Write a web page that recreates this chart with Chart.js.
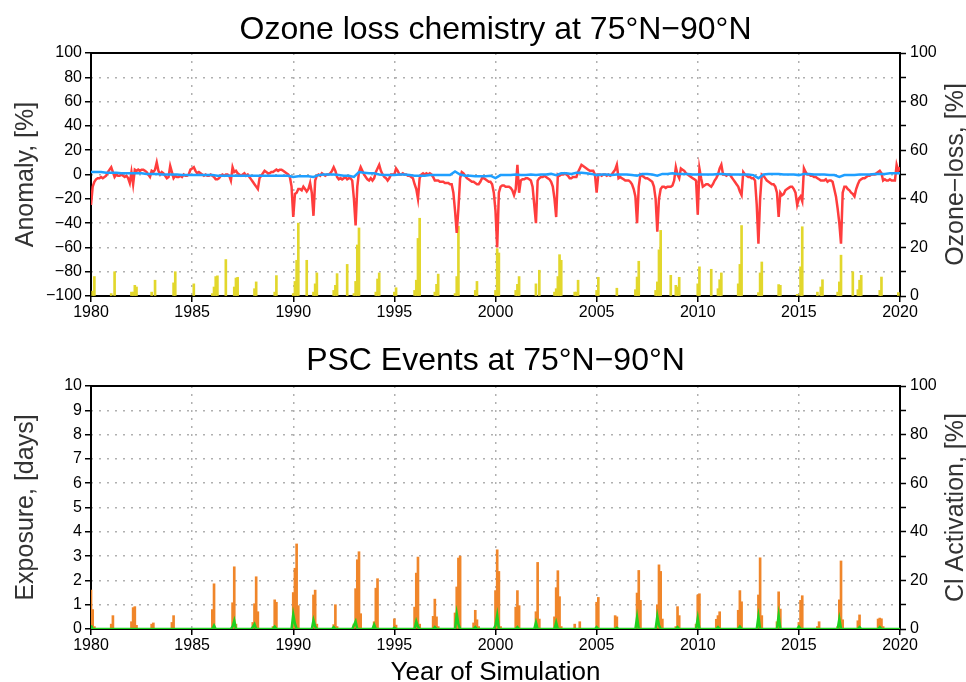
<!DOCTYPE html>
<html lang="en">
  <head>
    <meta charset="utf-8" />
    <title>Ozone loss chemistry at 75°N−90°N</title>
    <style>
      * {
        margin: 0;
        padding: 0;
      }
      body {
        background: #fff;
        width: 966px;
        height: 682px;
        overflow: hidden;
      }
      .chartBox {
        position: absolute;
        left: 0;
        width: 966px;
        height: 341px;
      }
      #topBox {
        top: 0;
      }
      #bottomBox {
        top: 341px;
      }
    </style>
  </head>
  <body>
    <div class="chartBox" id="topBox"><canvas id="ozoneChart" width="966" height="341"></canvas></div>
    <div class="chartBox" id="bottomBox"><canvas id="pscChart" width="966" height="341"></canvas></div>

    <script src="https://cdn.jsdelivr.net/npm/chart.js@4.4.0/dist/chart.umd.min.js"></script>

    <script>
      // ---- data ----
      const firstYear = 1980;
      const yearTicks = [1980, 1985, 1990, 1995, 2000, 2005, 2010, 2015, 2020];
      const anomalyTicks = [-100, -80, -60, -40, -20, 0, 20, 40, 60, 80, 100];
      const percentTicks = [0, 10, 20, 30, 40, 50, 60, 70, 80, 90, 100];
      const exposureTicks = [0, 1, 2, 3, 4, 5, 6, 7, 8, 9, 10];

      // ozone anomaly [%], one row per year (Jan..Dec), starting 1980
      const anomalyRows = [
        [-25, -10, -6, -4, -3, -3, -2, -3, -2, -1, 2, 4],
        [6, 2, -2, 0, -1, -1, 0, -1, -2, -1, -3, -7],
        [2, -8, 4, 3, 4, 3, 4, 4, 3, 2, 0, -2],
        [3, 2, 4, 10, 3, 0, 2, 1, -1, -3, -2, 7],
        [2, -3, -1, -2, -2, -1, -2, 0, -1, -1, 0, 4],
        [5, 6, 3, 1, 2, 1, 0, -1, 0, -1, -1, 0],
        [-1, -2, -4, -4, -3, -1, 0, -1, 0, 0, -1, -5],
        [6, 2, 3, 1, 0, -1, 0, 1, -1, 0, -2, -4],
        [-6, -8, -10, -12, -3, -1, 1, 3, 2, 1, 1, 2],
        [2, 3, 4, 3, 4, 4, 3, 2, 1, 0, -2, -10],
        [-35, -16, -15, -12, -12, -13, -10, -12, -14, -12, -7, -15],
        [-34, -5, -1, 0, -1, 1, 0, -1, 0, 0, 1, 3],
        [6, 3, -2, -4, -3, -4, -3, -2, -4, -3, -3, -5],
        [-20, -42, -10, 2, 6, 3, 0, -2, -4, -5, -3, -5],
        [-3, 2, 5, 8, 3, 0, -2, -3, -5, -3, 0, 0],
        [0, 5, 3, 0, 0, 1, 0, 0, -1, -1, -2, -3],
        [-8, -12, -20, -3, 0, 1, 0, 1, 0, 1, 0, -2],
        [-5, -5, -5, -6, -6, -6, -7, -7, -7, -8, -8, -15],
        [-30, -48, -28, -3, 2, 1, -1, -3, -4, -5, -6, -6],
        [-7, -8, -8, -6, -3, -3, -4, -5, -6, -6, -8, -15],
        [-30, -60, -15, -10, -9, -9, -10, -10, -10, -11, -13, -17],
        [-12, 8, -15, -5, -4, -4, -3, -3, -4, -5, -10, -25],
        [-40, -5, -3, -2, -2, -1, -2, -3, -4, -6, -10, -20],
        [-35, 0, -1, 0, 0, 1, 0, -1, -3, -3, -2, -2],
        [-2, 2, 5, 8, 7, 6, 5, 4, 3, 3, 3, 0],
        [-15, 0, 0, -1, 0, 0, -1, 0, -1, 0, 2, 4],
        [8, -3, -2, -3, -4, -5, -5, -5, -6, -8, -12, -18],
        [-40, -10, 0, -1, -2, -3, -3, -4, -5, -6, -10, -20],
        [-47, -20, -12, -10, -10, -11, -10, -10, -10, -9, -5, 6],
        [0, -3, 5, 4, 3, 1, 0, -1, -2, -3, -4, -5],
        [-33, 5, -3, -10, -9, -8, -8, -9, -10, -8, -5, -3],
        [0, 5, 8, 0, 0, -1, 0, 0, -2, -4, -6, -8],
        [-10, -14, -17, 2, 0, -1, -2, -2, -3, -3, -5, -25],
        [-57, -20, 0, -1, -3, -5, -6, -7, -8, -8, -10, -15],
        [-35, -15, -17, -16, -13, -12, -11, -10, -10, -12, -15, -25],
        [-20, -18, -22, 5, 2, 0, 0, -1, -1, -2, -2, -3],
        [-4, -5, -5, -5, -4, -6, -5, -5, -6, -12, -18, -28],
        [-40, -57, -15, -10, -10, -12, -13, -15, -16, -18, -12, -8],
        [-5, -4, -3, -3, -2, -1, -1, 0, 0, 0, 1, 2],
        [3, 1, -5, -4, -5, -5, -4, -5, -5, -5, 8, 3],
        [6],
      ];

      // reference anomaly [%], one row per year (Jan, Apr, Jul, Oct)
      const referenceRows = [
        [2, 2, 2, 1.5], [1.5, 1.5, 1, 1], [1, 1, 1, 0.5], [0.5, 0.5, 0, 0],
        [0, 0, -0.5, -0.5], [-0.5, -0.5, -0.5, -0.5], [-0.5, -1, -1, -1], [-1, -1, -1, -1],
        [-1, -1, -1, -1], [-1, -1, -1, -1], [-2, -1.5, -1.5, -1.5], [-2, -0.5, 0, 0],
        [0, -0.5, -1, -1], [-2, 2, 1.5, 1], [1, 0, -0.5, -0.5], [-0.5, 0, 0, -0.5],
        [-1, -1, -1, -0.5], [-0.5, -0.5, -0.5, -0.5], [2.5, 0, -1, -1], [-1.5, -1.5, -1.5, -1],
        [-3, -0.5, -0.5, -0.5], [0, -0.5, -0.5, 0], [-0.5, 0, 0, 0.5], [-0.5, 1, 1, 0.5],
        [1.5, 1.5, 1, 0.5], [-0.5, 0, 0, -0.5], [0, 0, 0, -0.5], [-1, 0.5, 0.5, 0],
        [-1, 0.5, 0.5, 1], [0.5, 0.5, 0.5, 0], [0, 0, 0, 0], [0.5, 0.5, 0, 0],
        [0, 0, 0, -0.5], [-3, 0, 0.5, 0.5], [0.5, 0, 0, 0], [-0.5, 0.5, 0.5, 0],
        [0, 0, -0.5, -0.5], [-2, -0.5, -0.5, -0.5], [0, 0, 0, 0.5], [0.5, 0.5, 1, 1],
        [1],
      ];

      // ozone loss [%]: [year, month, value]
      const ozoneLoss = [
        [1980, 2, 2], [1980, 3, 8], [1981, 1, 1], [1981, 3, 10],
        [1982, 1, 1.6], [1982, 2, 1.6], [1982, 3, 4.4], [1982, 4, 3.7],
        [1983, 1, 1.6], [1983, 3, 6.5], [1984, 2, 5.4], [1984, 3, 10], [1985, 2, 5],
        [1986, 1, 1], [1986, 2, 3.7], [1986, 3, 8], [1986, 4, 8.3], [1986, 9, 15],
        [1987, 2, 3.7], [1987, 3, 7.4], [1987, 4, 7.7], [1988, 2, 3], [1988, 3, 5.8],
        [1989, 2, 1.6], [1989, 3, 8.4],
        [1990, 1, 1], [1990, 2, 6], [1990, 3, 14.7], [1990, 4, 30], [1990, 9, 14.7],
        [1991, 1, 1.6], [1991, 2, 5], [1991, 3, 9.5],
        [1992, 1, 2.3], [1992, 2, 4.4], [1992, 3, 9.2], [1992, 9, 13],
        [1993, 1, 1], [1993, 2, 6], [1993, 3, 21], [1993, 4, 28],
        [1994, 2, 1.6], [1994, 3, 7], [1994, 4, 9.5], [1995, 1, 1.6], [1995, 2, 3.4],
        [1996, 1, 2.3], [1996, 2, 6.5], [1996, 3, 23.7], [1996, 4, 32],
        [1997, 1, 1.6], [1997, 2, 4.8], [1997, 3, 9],
        [1998, 1, 1], [1998, 2, 8], [1998, 3, 28.7], [1999, 1, 2.3], [1999, 2, 6],
        [2000, 1, 2.3], [2000, 2, 19.5], [2000, 3, 17.7],
        [2001, 1, 2.3], [2001, 2, 4.8], [2001, 3, 8], [2002, 1, 5], [2002, 3, 10.6],
        [2002, 12, 1.6], [2003, 1, 3], [2003, 2, 8], [2003, 3, 17], [2003, 4, 14.7],
        [2003, 12, 1.6], [2004, 1, 1.6], [2004, 2, 6.5], [2005, 1, 2.3], [2005, 2, 7.7],
        [2006, 1, 3.2], [2006, 12, 2.6], [2007, 1, 7.8], [2007, 2, 14.3],
        [2007, 12, 2.3], [2008, 1, 5.8], [2008, 2, 19], [2008, 3, 27], [2008, 9, 8.5],
        [2008, 12, 4.4], [2009, 1, 3.7], [2009, 2, 7.7],
        [2010, 1, 5], [2010, 2, 12], [2010, 9, 11], [2011, 1, 3], [2011, 2, 6.7], [2011, 3, 9.5],
        [2012, 1, 5], [2012, 2, 13], [2012, 3, 29], [2013, 1, 1.4], [2013, 2, 9.5], [2013, 3, 14],
        [2014, 1, 4.7], [2014, 2, 4.4], [2014, 12, 0.7], [2015, 2, 12], [2015, 3, 28.5],
        [2015, 12, 1.6], [2016, 2, 3.7], [2016, 3, 6.7],
        [2016, 12, 1.6], [2017, 1, 5.8], [2017, 2, 16.8], [2017, 9, 10],
        [2017, 12, 2.6], [2018, 1, 6.5], [2018, 2, 8.5],
        [2019, 1, 2.3], [2019, 2, 7.8], [2019, 12, 1.4],
      ];

      // PSC exposure [days]: [year, month, value]
      const exposure = [
        [1980, 1, 1.6], [1980, 2, 0.8], [1980, 3, 0.1], [1981, 1, 0.2], [1981, 2, 0.55],
        [1982, 1, 0.3], [1982, 2, 0.88], [1982, 3, 0.92], [1982, 4, 0.15],
        [1983, 1, 0.2], [1983, 2, 0.25], [1984, 1, 0.27], [1984, 2, 0.55],
        [1986, 1, 0.8], [1986, 2, 1.86], [1987, 1, 1.08], [1987, 2, 2.56], [1987, 3, 0.2],
        [1988, 1, 0.27], [1988, 2, 1.04], [1988, 3, 2.15], [1988, 4, 0.71],
        [1989, 1, 0.1], [1989, 2, 1.2], [1989, 3, 1.1],
        [1990, 1, 1.5], [1990, 2, 2.5], [1990, 3, 3.5], [1990, 4, 0.96],
        [1991, 1, 1.4], [1991, 2, 1.6], [1991, 3, 0.2], [1992, 1, 0.18], [1992, 2, 1.0], [1992, 3, 0.1],
        [1993, 1, 0.2], [1993, 2, 1.66], [1993, 3, 2.85], [1993, 4, 3.18], [1993, 5, 0.63],
        [1994, 1, 0.3], [1994, 2, 1.68], [1994, 3, 2.07], [1995, 1, 0.42], [1995, 2, 0.16],
        [1996, 1, 0.9], [1996, 2, 2.3], [1996, 3, 2.96], [1996, 4, 0.2],
        [1996, 12, 0.52], [1997, 1, 1.23], [1997, 2, 0.5], [1997, 3, 0.1],
        [1998, 1, 0.66], [1998, 2, 1.73], [1998, 3, 2.92], [1998, 4, 3.0],
        [1998, 12, 0.25], [1999, 1, 0.77], [1999, 2, 0.38], [1999, 3, 0.1],
        [2000, 1, 1.58], [2000, 2, 3.26], [2000, 3, 2.37], [2000, 4, 0.1],
        [2001, 1, 0.9], [2001, 2, 1.58], [2001, 3, 0.96], [2002, 1, 0.71], [2002, 2, 2.74], [2002, 3, 0.41],
        [2002, 12, 0.5], [2003, 1, 1.7], [2003, 2, 2.4], [2003, 3, 1.33], [2003, 4, 0.1],
        [2003, 12, 0.2], [2004, 3, 0.3], [2005, 1, 1.1], [2005, 2, 1.3],
        [2005, 12, 0.55], [2006, 1, 0.5], [2007, 1, 1.48], [2007, 2, 2.41], [2007, 3, 1.18],
        [2008, 1, 1.0], [2008, 2, 2.64], [2008, 3, 2.37], [2008, 4, 0.41],
        [2008, 12, 0.1], [2009, 1, 0.92], [2009, 2, 0.55],
        [2009, 12, 0.2], [2010, 1, 1.4], [2010, 2, 1.45], [2010, 12, 0.4], [2011, 1, 0.55], [2011, 2, 0.71],
        [2012, 1, 0.77], [2012, 2, 1.58], [2012, 3, 1.12], [2013, 1, 1.4], [2013, 2, 2.93], [2013, 3, 0.55],
        [2013, 12, 0.3], [2014, 1, 1.53], [2014, 2, 0.82], [2015, 1, 0.27], [2015, 2, 1.18], [2015, 3, 1.37],
        [2015, 12, 0.1], [2016, 1, 0.3], [2016, 12, 0.1], [2017, 1, 1.2], [2017, 2, 2.8], [2017, 3, 0.38],
        [2017, 12, 0.34], [2018, 1, 0.58], [2018, 12, 0.41], [2019, 1, 0.45], [2019, 2, 0.42], [2019, 3, 0.1],
      ];

      // Cl activation [%]: [year, month, value], zero in all other months
      const clActivation = [
        [1980, 1, 1.4], [1986, 2, 1.4], [1987, 1, 1], [1987, 2, 3.4], [1988, 1, 0.8], [1988, 2, 2],
        [1989, 2, 1], [1990, 1, 5.9], [1990, 2, 2.2], [1991, 1, 3.6], [1991, 2, 1], [1992, 1, 0.8],
        [1993, 1, 1.5], [1993, 2, 3.1], [1994, 1, 1.8], [1995, 1, 0.5], [1996, 2, 3.1], [1996, 3, 1],
        [1997, 1, 0.8], [1998, 2, 6.2], [1998, 3, 2], [1999, 1, 0.8], [2000, 1, 1.5], [2000, 2, 5.6],
        [2001, 2, 0.8], [2002, 1, 2.7], [2003, 1, 2.7], [2005, 1, 0.8], [2006, 1, 0.5],
        [2007, 1, 4.8], [2008, 1, 5.2], [2008, 2, 1.5], [2009, 1, 0.8], [2010, 1, 4.4],
        [2011, 1, 0.8], [2012, 2, 1], [2013, 1, 5.1], [2014, 1, 5.6], [2015, 1, 1],
        [2017, 1, 4.1], [2018, 1, 0.8], [2019, 1, 0.8],
      ];

      // ---- helpers ----
      const monthX = (year, month) => year + (month - 1) / 12;
      const toPoints = (list) => list.map(([yr, mo, v]) => ({ x: monthX(yr, mo), y: v }));

      const anomalyPoints = anomalyRows.flatMap((row, i) =>
        row.map((v, m) => ({ x: firstYear + i + m / 12, y: v }))
      );
      const referencePoints = referenceRows.flatMap((row, i) =>
        row.map((v, q) => ({ x: firstYear + i + q / 4, y: v }))
      );

      const clLookup = {};
      clActivation.forEach(([yr, mo, v]) => (clLookup[yr * 12 + mo - 1] = v));
      const clPoints = [];
      for (let k = firstYear * 12; k <= 2020 * 12; k++) {
        clPoints.push({ x: k / 12, y: clLookup[k] || 0 });
      }

      // ---- styles ----
      const FONT = "'Liberation Sans', Arial, sans-serif";
      const gridGray = "#b0b0b0";
      Chart.defaults.font.family = FONT;
      Chart.defaults.font.size = 16;
      Chart.defaults.color = "#000";

      const fixedTicks = (list) => (axis) => {
        axis.ticks = list.map((v) => ({ value: v }));
      };
      const minus = (v) => String(v).replace("-", "\u2212");

      // frame around plot area
      const frameBox = {
        id: "frameBox",
        beforeDatasetsDraw(chart) {
          const { ctx, chartArea: { left, top, right, bottom } } = chart;
          ctx.save();
          ctx.strokeStyle = "#000";
          ctx.lineWidth = 2;
          ctx.strokeRect(left, top, right - left, bottom - top);
          ctx.restore();
        },
      };

      // titles
      const panelText = {
        id: "panelText",
        afterDraw(chart, args, opts) {
          const { ctx, chartArea: { left, top, right, bottom } } = chart;
          const midX = (left + right) / 2;
          const midY = (top + bottom) / 2;
          ctx.save();
          ctx.textAlign = "center";
          ctx.textBaseline = "alphabetic";
          ctx.fillStyle = "#000";
          ctx.font = "32px " + FONT;
          ctx.fillText(opts.title, midX, opts.titleY);

          if (opts.xTitle) {
            ctx.font = "26px " + FONT;
            ctx.fillText(opts.xTitle, midX, opts.xTitleY);
          }

          ctx.font = "25px " + FONT;
          ctx.fillStyle = "#333";
          [[opts.leftTitle, 33], [opts.rightTitle, 963]].forEach(([text, x]) => {
            ctx.save();
            ctx.translate(x, midY);
            ctx.rotate(-Math.PI / 2);
            ctx.fillText(text, 0, 0);
            ctx.restore();
          });
          ctx.restore();
        },
      };

      const xScale = (height) => ({
        type: "linear",
        min: 1980,
        max: 2020,
        offset: false,
        afterBuildTicks: fixedTicks(yearTicks),
        afterFit: (axis) => {
          axis.height = height;
        },
        ticks: { callback: (v) => String(v), maxRotation: 0, autoSkip: false, padding: 1 },
        grid: { offset: false, color: gridGray, lineWidth: 1.5, tickColor: "#000", tickLength: 6, tickWidth: 1.5 },
        border: { display: false, dash: [2, 6] },
      });

      const leftScale = (min, max, list) => ({
        position: "left",
        min: min,
        max: max,
        afterBuildTicks: fixedTicks(list),
        afterFit: (axis) => {
          axis.width = 91;
        },
        ticks: { callback: minus, padding: 3 },
        grid: { color: gridGray, lineWidth: 1.5, tickColor: "#000", tickLength: 6, tickWidth: 1.5 },
        border: { display: false, dash: [2, 6] },
      });

      const rightScale = () => ({
        position: "right",
        min: 0,
        max: 100,
        afterBuildTicks: fixedTicks(percentTicks),
        afterFit: (axis) => {
          axis.width = 66;
        },
        ticks: { callback: (v) => (v % 20 === 0 ? String(v) : ""), padding: 4 },
        grid: { drawOnChartArea: false, tickColor: "#000", tickLength: 6, tickWidth: 1.5 },
        border: { display: false },
      });

      const barStyle = { type: "bar", barThickness: 2, grouped: false, borderWidth: 0 };

      // ---- top chart ----
      new Chart(document.getElementById("ozoneChart"), {
        type: "line",
        data: {
          datasets: [
            { data: referencePoints, borderColor: "#1f9fff", borderWidth: 2.5, pointRadius: 0, yAxisID: "y" },
            { data: anomalyPoints, borderColor: "#ff3d3d", borderWidth: 2.5, pointRadius: 0, yAxisID: "y" },
            { ...barStyle, data: toPoints(ozoneLoss), backgroundColor: "#e2d72c", yAxisID: "y2" },
          ],
        },
        options: {
          responsive: false,
          animation: false,
          layout: { padding: { top: 53, left: 0, right: 0, bottom: 0 } },
          plugins: {
            legend: { display: false },
            tooltip: { enabled: false },
            panelText: {
              title: "Ozone loss chemistry at 75°N−90°N",
              titleY: 39,
              leftTitle: "Anomaly, [%]",
              rightTitle: "Ozone−loss, [%]",
            },
          },
          scales: {
            x: xScale(45),
            y: leftScale(-100, 100, anomalyTicks),
            y2: rightScale(),
          },
        },
        plugins: [frameBox, panelText],
      });

      // ---- bottom chart ----
      new Chart(document.getElementById("pscChart"), {
        type: "line",
        data: {
          datasets: [
            { data: clPoints, borderColor: "#1fd01f", borderWidth: 2.5, pointRadius: 0, yAxisID: "y2" },
            { ...barStyle, data: toPoints(exposure), backgroundColor: "#f0862a", yAxisID: "y" },
          ],
        },
        options: {
          responsive: false,
          animation: false,
          layout: { padding: { top: 45, left: 0, right: 0, bottom: 0 } },
          plugins: {
            legend: { display: false },
            tooltip: { enabled: false },
            panelText: {
              title: "PSC Events at 75°N−90°N",
              titleY: 29,
              xTitle: "Year of Simulation",
              xTitleY: 339,
              leftTitle: "Exposure, [days]",
              rightTitle: "Cl Activation, [%]",
            },
          },
          scales: {
            x: xScale(53),
            y: leftScale(0, 10, exposureTicks),
            y2: rightScale(),
          },
        },
        plugins: [frameBox, panelText],
      });
    </script>
  </body>
</html>
